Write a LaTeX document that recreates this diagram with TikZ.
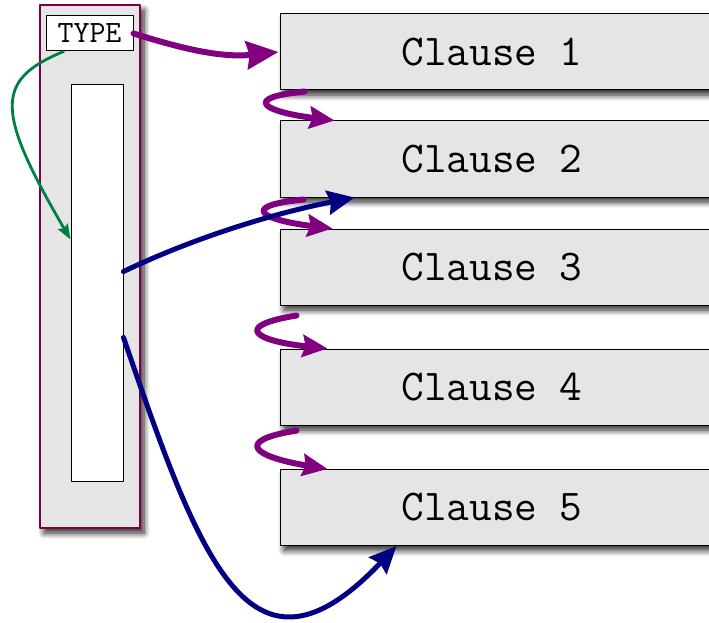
\documentclass[tikz,border=0pt]{standalone}
\usetikzlibrary{arrows.meta,shadows.blur}

\definecolor{framered}{RGB}{125,0,70}
\definecolor{hookpurple}{RGB}{128,0,128}
\definecolor{linknavy}{RGB}{0,0,128}
\definecolor{linkgreen}{RGB}{0,128,64}
\definecolor{boxgray}{RGB}{229,229,229}

\tikzset{
  shade box/.style={blur shadow={shadow xshift=4pt,shadow yshift=-5pt,shadow blur steps=8,
    shadow blur radius=6pt,shadow opacity=85}},
  clause/.style={draw=black,line width=1pt,fill=boxgray,shade box,minimum width=440pt,minimum height=76pt,
    inner sep=0pt,font=\fontsize{44}{46}\selectfont\ttfamily},
  hook/.style={hookpurple,line width=6pt,-{Stealth[length=25pt,width=22pt,inset=3pt]}},
  navylink/.style={linknavy,line width=5pt,-{Stealth[length=27pt,width=24pt,inset=3pt]}}
}

\begin{document}
\begin{tikzpicture}[
  x=1pt,y=-1pt,
  line cap=round,
  line join=round
  ]
  \useasboundingbox (0,0) rectangle (709,623);

  % Record with its type tag and slot column
  \node[draw=framered,line width=2.8pt,fill=boxgray,shade box,
        minimum width=100pt,minimum height=523pt,inner sep=0pt] (rec) at (90,266.5) {};
  \node[draw=black,line width=1pt,fill=white,minimum width=87pt,minimum height=35pt,
        inner sep=0pt,font=\fontsize{31}{33}\selectfont\ttfamily] (type) at (89.5,33.5) {TYPE};
  \node[draw=black,line width=1pt,fill=white,minimum width=52pt,minimum height=396pt,
        inner sep=0pt] (slots) at (97,283) {};

  % The clauses (right edge runs off the page)
  \node[clause] (c1) at (500,52) {Clause 1\hspace*{16pt}};
  \node[clause] (c2) at (500,159) {Clause 2\hspace*{16pt}};
  \node[clause] (c3) at (500,267) {Clause 3\hspace*{16pt}};
  \node[clause] (c4) at (500,387) {Clause 4\hspace*{16pt}};
  \node[clause] (c5) at (500,507.5) {Clause 5\hspace*{16pt}};

  % Type tag to first clause
  \draw[hookpurple,line width=6pt,-{Stealth[length=32pt,width=28pt,inset=3pt]}]
    (type.east) .. controls (180,48) and (220,58) .. ([xshift=-1pt]c1.west);

  % Type tag into the slots
  \draw[linkgreen,line width=2.8pt,-{Stealth[length=15pt,width=11pt,inset=2pt]}]
    ([xshift=18pt]type.south west) .. controls (-5,80) and (-5,110) .. ([yshift=-155pt]slots.north west);

  % Chaining between the clauses
  \draw[hook] ([xshift=25pt,yshift=-1pt]c1.south west) .. controls (240,98) and (265,112) .. ([xshift=55pt]c2.north west);
  \draw[hook] ([xshift=24pt,yshift=-2pt]c2.south west) .. controls (238,206) and (262,220) .. ([xshift=53pt]c3.north west);
  \draw[hook] ([xshift=17pt,yshift=-10pt]c3.south west) .. controls (232,326) and (255,341) .. ([xshift=48pt]c4.north west);
  \draw[hook] ([xshift=17pt,yshift=-5pt]c4.south west) .. controls (232,441) and (255,457) .. ([xshift=48pt]c5.north west);

  % Slots to clauses
  \draw[navylink] ([yshift=-187pt]slots.north east) .. controls (200,235) and (280,212) .. ([xshift=75pt]c2.south west);
  \draw[navylink] ([yshift=-253pt]slots.north east) .. controls (200,560) and (250,700) .. ([xshift=117pt]c5.south west);
\end{tikzpicture}
\end{document}
